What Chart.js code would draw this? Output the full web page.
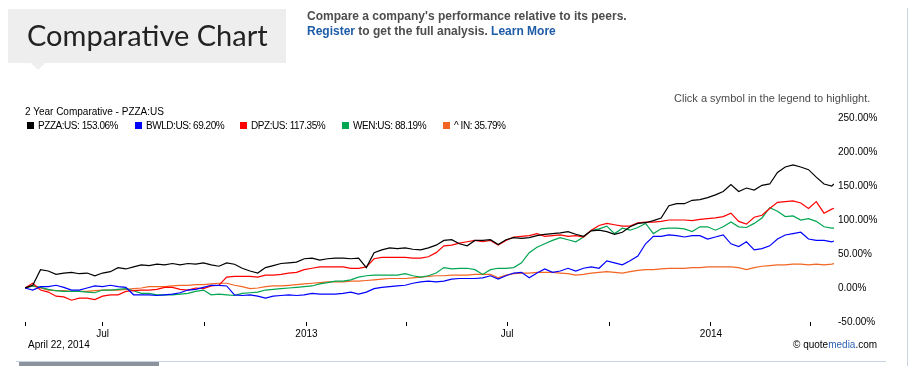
<!DOCTYPE html>
<html>
<head>
<meta charset="utf-8">
<script src="https://cdn.jsdelivr.net/npm/chart.js@4.4.1/dist/chart.umd.min.js"></script>
<style>
  html, body { margin: 0; padding: 0; background: #fff; overflow: hidden; }
  body { width: 911px; height: 366px; position: relative; font-family: "Liberation Sans", Arial, sans-serif; }
  #wrap { position: absolute; left: 0; top: 0; width: 911px; height: 366px; }
  .abs { position: absolute; white-space: nowrap; }
  #titleBox { left: 8px; top: 9px; width: 278px; height: 54px; background: #eeeeee; }
  #titleTri { left: 31px; top: 63px; width: 0; height: 0; border-left: 7px solid transparent; border-right: 7px solid transparent; border-top: 7px solid #eeeeee; }
  #title { left: 27px; top: 17px; font-family: Lato, "Open Sans", sans-serif; font-size: 29px; color: #222; line-height: 36px; }
  .promo { font-size: 12px; font-weight: bold; color: #4d4d4d; line-height: 15px; }
  .promo a { color: #1f5ca8; text-decoration: none; }
  .small { font-size: 10px; color: #000; line-height: 12px; }
  #legend { left: 27px; top: 120px; font-size: 10px; line-height: 12px; }
  .lg { position: absolute; top: 0; white-space: nowrap; letter-spacing: -0.45px; }
  .sw { display: inline-block; width: 7px; height: 7px; margin-right: 4px; vertical-align: 0px; }
  #vline { left: 907px; top: 8px; width: 1px; height: 358px; background: #c9d2de; }
  #hline { left: 16px; top: 361px; width: 870px; height: 1px; background: #c5d3e8; }
  #scroll { left: 19px; top: 362px; width: 140px; height: 4px; background: #8c939c; }
</style>
</head>
<body>
<div id="wrap"><canvas id="c" width="911" height="366"></canvas></div>

<div class="abs" id="titleBox"></div>
<div class="abs" id="titleTri"></div>
<div class="abs" id="title">Comparative Chart</div>
<div class="abs promo" style="left:307px; top:9px;">Compare a company's performance relative to its peers.</div>
<div class="abs promo" style="left:307px; top:24px;"><a>Register</a> to get the full analysis. <a>Learn More</a></div>
<div class="abs small" style="left:674px; top:92px; font-size:11px; color:#4a4a4a; line-height:13px;">Click a symbol in the legend to highlight.</div>
<div class="abs small" style="left:25px; top:106px;">2 Year Comparative - PZZA:US</div>
<div class="abs" id="legend"></div>
<div class="abs small" style="left:28px; top:339px;">April 22, 2014</div>
<div class="abs small" style="left:793px; top:339px;">© quote<span style="color:#2f63b5">media</span>.com</div>
<div class="abs" id="vline"></div>
<div class="abs" id="hline"></div>
<div class="abs" id="scroll"></div>

<script>
// Day offsets from April 22, 2012 (weekly samples) to April 22, 2014
const days = [0,7,14,21,28,35,42,49,56,63,70,77,84,91,98,105,112,119,126,133,140,147,154,161,168,175,182,189,196,203,210,217,224,231,238,245,252,259,266,273,280,287,294,301,308,315,322,329,336,343,350,357,364,371,378,385,392,399,406,413,420,427,434,441,448,455,462,469,476,483,490,497,504,511,518,525,532,539,546,553,560,567,574,581,588,595,602,609,616,623,630,637,644,651,658,665,672,679,686,693,700,707,714,721,728,730];

const seriesNames = ["PZZA:US", "BWLD:US", "DPZ:US", "WEN:US", "^IN"];
const lastValues = [153.06, 69.20, 117.35, 88.19, 35.79];
const seriesColors = ["#000000", "#0000ff", "#ff0000", "#00a651", "#f26522"];

const pzza = [0,4,27,25,20,22,23,21,22,18,
  22,24,30,28,31,34,33,35,34,36,
  34,36,35,37,34,32,37,35,29,25,
  22,30,33,36,37,38,43,44,41,43,
  44,44,43,44,30,52,56,59,58,59,
  57,56,59,63,70,71,65,62,70,70,
  71,64,71,74,73,74,77,79,80,81,
  83,79,76,84,85,83,79,82,90,95,
  96,99,103,121,124,124,129,130,133,137,
  142,152,142,147,144,151,153,170,178,181,
  178,174,163,153,150,153.06];

const bwld = [0,-3,2,2,4,1,-3,-3,0,3,
  2,4,2,1,-10,-10,-10,-11,-10,-9,
  -7,-3,-2,1,4,4,3,-10,-11,-10,
  -12,-15,-12,-11,-10,-11,-10,-8,-9,-9,
  -9,-8,-6,-9,-6,-1,1,2,3,4,
  7,9,10,9,10,13,14,14,14,15,
  18,13,18,22,23,15,22,28,23,25,
  29,25,29,31,29,40,37,34,40,47,
  65,76,76,78,77,75,77,77,72,75,
  78,65,61,68,56,58,62,72,78,80,
  82,72,70,70,68,69.20];

const dpz = [0,7,-3,-6,-12,-13,-18,-15,-15,-17,
  -12,-10,-10,-5,-4,-3,-3,-2,1,1,
  -2,-3,0,-1,3,4,16,17,17,17,
  16,19,19,20,22,23,27,29,31,31,
  31,31,29,29,31,43,45,45,45,45,
  44,44,46,52,62,63,66,68,70,68,
  70,63,70,75,76,77,80,76,77,78,
  76,77,75,85,92,95,93,91,91,96,
  97,97,98,100,100,100,99,101,102,103,
  105,110,98,94,104,107,117,126,127,128,
  125,117,127,110,116,117.35];

const wen = [0,3,1,-2,-4,-5,-5,-5,-6,-7,
  -3,-3,-2,-1,-4,-8,-8,-10,-10,-10,
  -9,-8,-5,-3,-10,-9,-10,-11,-8,-7,
  -6,-3,-2,-1,0,1,2,3,6,8,
  10,10,12,16,18,19,19,19,19,21,
  18,16,18,22,30,28,29,29,27,20,
  27,29,29,30,37,52,60,65,70,74,
  71,68,75,85,87,91,80,88,85,89,
  95,80,87,88,88,87,83,90,90,85,
  90,97,90,89,95,103,118,113,105,106,
  100,102,98,90,88,88.19];

const inIdx = [0,3,0,-3,-4,-4,-5,-5,-5,-4,
  -3,-3,-3,-2,-1,0,2,2,2,3,
  4,4,5,5,6,7,7,4,2,-1,
  0,2,3,3,4,5,6,7,8,9,
  9,9,10,10,11,12,13,14,14,14,
  15,16,17,18,18,19,19,19,20,20,
  20,15,19,21,22,22,23,23,23,22,
  21,19,20,22,23,24,23,22,24,26,
  27,27,28,29,29,29,30,30,31,31,
  31,31,30,27,30,32,33,34,34,35,
  35,34,35,34,35,35.79];

// x-axis ticks: start date, then quarter boundaries (day offsets) and their labels
const tickDays = [0, 70, 162, 254, 344, 435, 527, 619, 709];
const tickLabels = ["", "Jul", "", "2013", "", "Jul", "", "2014", ""];
const yTicks = [-50, 0, 50, 100, 150, 200, 250];

const seriesValues = [pzza, bwld, dpz, wen, inIdx];

// legend
const legendX = [0, 108, 213, 315, 416];
const legendEl = document.getElementById('legend');
seriesNames.forEach((n, i) => {
  const d = document.createElement('div');
  d.className = 'lg';
  d.style.left = legendX[i] + 'px';
  d.innerHTML = '<span class="sw" style="background:' + seriesColors[i] + '"></span>' +
    n.replace('^', '^ ') + ': ' + lastValues[i].toFixed(2) + '%';
  legendEl.appendChild(d);
});

const datasets = seriesValues.map((vals, i) => ({
  label: seriesNames[i],
  data: vals.map((v, j) => ({ x: days[j], y: v })),
  borderColor: seriesColors[i],
  backgroundColor: seriesColors[i],
  borderWidth: 1.2,
  pointRadius: 0,
  tension: 0,
  fill: false
}));

new Chart(document.getElementById('c'), {
  type: 'line',
  data: { datasets },
  options: {
    responsive: false,
    animation: false,
    devicePixelRatio: 1,
    layout: { padding: { top: 118, left: 25, right: 0, bottom: 0 } },
    plugins: { legend: { display: false }, tooltip: { enabled: false } },
    scales: {
      x: {
        type: 'linear',
        min: 0,
        max: 730,
        afterBuildTicks: (s) => { s.ticks = tickDays.map(v => ({ value: v })); },
        afterFit: (s) => { s.height = 44; },
        grid: { drawOnChartArea: false, drawTicks: true, tickLength: 4, color: '#000', lineWidth: 1 },
        border: { display: false },
        ticks: {
          autoSkip: false, maxRotation: 0, padding: 2,
          color: '#000', font: { family: '"Liberation Sans", Arial, sans-serif', size: 10 },
          callback: (v, i) => tickLabels[i]
        }
      },
      y: {
        position: 'right',
        min: -50,
        max: 250,
        afterBuildTicks: (s) => { s.ticks = yTicks.map(v => ({ value: v })); },
        afterFit: (s) => { s.width = 77; },
        grid: { display: false, drawTicks: false },
        border: { display: false },
        ticks: {
          padding: 4,
          color: '#000', font: { family: '"Liberation Sans", Arial, sans-serif', size: 10 },
          callback: (v) => v.toFixed(2) + '%'
        }
      }
    }
  }
});
</script>
</body>
</html>
